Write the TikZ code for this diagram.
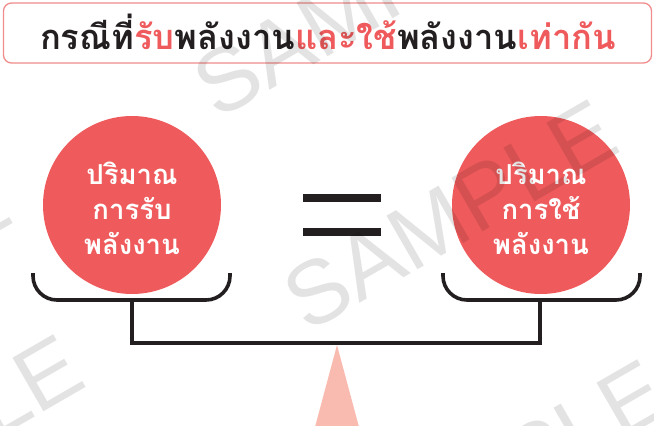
\documentclass[tikz,border=0pt]{standalone}
\usepackage{fontspec}
\newfontfamily\thaifont[Script=Thai]{Loma}
\newfontfamily\wmfont{Liberation Sans}
\definecolor{accent}{HTML}{EF5A5C}
\definecolor{frame}{HTML}{F08C8C}
\definecolor{ink}{HTML}{231F20}
\definecolor{pivot}{HTML}{F9BBB0}
\begin{document}
\begin{tikzpicture}[x=1pt,y=-1pt,
  titlebox/.style={draw=frame, line width=1.3pt, rounded corners=8pt, minimum width=648pt, minimum height=60pt, inner sep=0pt},
  titletext/.style={font=\thaifont\bfseries\fontsize{34.5}{40}\selectfont, text=ink, inner sep=0pt, anchor=base},
  bigcircle/.style={circle, fill=accent, minimum size=178pt, inner sep=0pt},
  circletext/.style={font=\thaifont\bfseries\fontsize{27.5}{35}\selectfont, text=white, align=center, inner sep=0pt},
  beam/.style={draw=ink, line width=3.6pt},
  pan/.style={draw=ink, line width=3.6pt, rounded corners=24pt},
  eqbar/.style={fill=ink, minimum width=78pt, minimum height=8pt, inner sep=0pt},
  watermark/.style={font=\wmfont\fontsize{90}{90}\selectfont, text=black, text opacity=0.11, rotate=30, inner sep=0pt}
]
\useasboundingbox (0,0) rectangle (654,426);
% title
\node[titlebox] (title) at (327.5,33) {};
\node[titletext] (titletxt) at (328,49) {กรณีที่{\color{accent}รับ}พลังงาน{\color{accent}และใช้}พลังงาน{\color{accent}เท่ากัน}};
% circles
\node[bigcircle] (recv) at (132,205) {};
\node[bigcircle] (use) at (541,205) {};
\node[circletext] (recvtxt) at (132,208) {ปริมาณ\\การรับ\\พลังงาน};
\node[circletext] (usetxt) at (541,208) {ปริมาณ\\การใช้\\พลังงาน};
% equals
\node[eqbar] (eqtop) at (342,198) {};
\node[eqbar] (eqbot) at (342,232) {};
% pans
\coordinate (lpanA) at (33,273);
\coordinate (lpanB) at (33,300);
\coordinate (lpanC) at (230,300);
\coordinate (lpanD) at (230,273);
\coordinate (lpanM) at (132,300);
\coordinate (rpanA) at (443,273);
\coordinate (rpanB) at (443,300);
\coordinate (rpanC) at (640,300);
\coordinate (rpanD) at (640,273);
\coordinate (rpanM) at (540,300);
\coordinate (beamL) at (132,343);
\coordinate (beamR) at (540,343);
\draw[pan] (lpanA) -- (lpanB) -- (lpanC) -- (lpanD);
\draw[pan] (rpanA) -- (rpanB) -- (rpanC) -- (rpanD);
\draw[beam] (lpanM) -- (beamL) -- (beamR) -- (rpanM);
% pivot
\coordinate (apex) at (337,345);
\coordinate (baseL) at (315,427);
\coordinate (baseR) at (359,427);
\fill[pivot] (apex) -- (baseL) -- (baseR) -- cycle;
% watermark
\node[watermark] (wm1) at (360,2) {SAMPLE};
\node[watermark] (wm2) at (450,215) {SAMPLE};
\node[watermark] (wm3) at (500,475) {SAMPLE};
\node[watermark] (wm4) at (-157,286) {SAMPLE};
\node[watermark] (wm5) at (-84,450) {SAMPLE};
\end{tikzpicture}
\end{document}
